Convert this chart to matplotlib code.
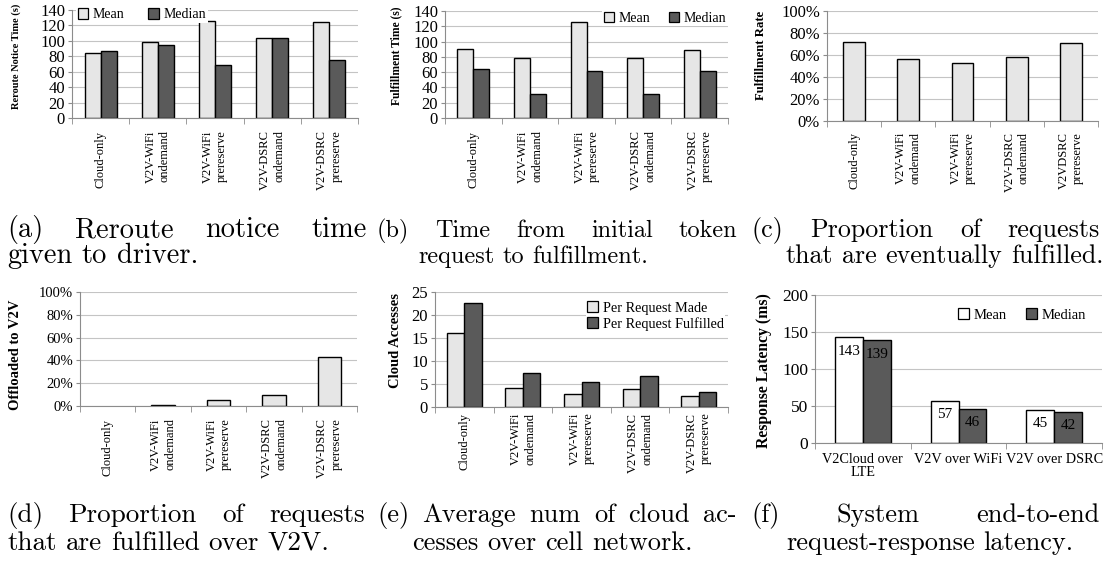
import numpy as np
import matplotlib
matplotlib.use("Agg")
import matplotlib.pyplot as plt
from matplotlib.transforms import IdentityTransform
from matplotlib.ticker import PercentFormatter, MultipleLocator
from matplotlib.patches import Patch

W, H = 1113, 567

# --- data ---
SCHEMES = ["Cloud-only", "V2V-WiFi\nondemand", "V2V-WiFi\nprereserve",
           "V2V-DSRC\nondemand", "V2V-DSRC\nprereserve"]
SCHEMES_C = ["Cloud-only", "V2V-WiFi\nondemand", "V2V-WiFi\nprereserve",
             "V2V-DSRC\nondemand", "V2VDSRC\nprereserve"]
reroute_mean = [84, 99, 126, 104, 124]
reroute_median = [87, 95, 69, 104, 75]
fulfill_mean = [90, 79, 125, 78, 89]
fulfill_median = [64, 32, 61, 32, 61]
fulfill_rate = [72, 56, 53, 58, 71]          # %
offloaded = [0, 1, 5, 9.6, 43]                # %
access_made = [16.1, 4.2, 2.75, 3.9, 2.4]
access_fulfilled = [22.7, 7.4, 5.4, 6.7, 3.3]
LINKS = ["V2Cloud over\nLTE", "V2V over WiFi", "V2V over DSRC"]
latency_mean = [143, 57, 45]
latency_median = [139, 46, 42]

LIGHT = "#e6e6e6"
DARK = "#5a5a5a"
GRAY = "#8c8c8c"

plt.rcParams["font.family"] = "Liberation Serif"
fig = plt.figure(figsize=(W / 100, H / 100), dpi=100)


def add_axes(l, t, r, b):
    return fig.add_axes([l / W, 1 - b / H, (r - l) / W, (b - t) / H])


def style(ax, n, ymax, step, ysize, xsize=9, xpad=8):
    ax.set_xlim(-0.5, n - 0.5)
    ax.set_ylim(0, ymax)
    ax.yaxis.set_major_locator(MultipleLocator(step))
    ax.grid(axis="y", color="#c4c4c4", lw=0.8)
    ax.set_axisbelow(True)
    for s in ["top", "right"]:
        ax.spines[s].set_visible(False)
    for s in ["left", "bottom"]:
        ax.spines[s].set_color(GRAY)
        ax.spines[s].set_linewidth(0.8)
    ax.tick_params(axis="y", length=3, color=GRAY, labelsize=ysize, pad=2)
    ax.set_xticks(np.arange(-0.5, n), minor=True)
    ax.tick_params(axis="x", which="minor", length=4, color=GRAY)
    ax.tick_params(axis="x", which="major", length=0, labelsize=xsize, pad=xpad)
    ax.set_xticks(range(n))


def rot_labels(ax, labels):
    ax.set_xticklabels(labels, rotation=90, ha="center", va="top",
                       multialignment="right", linespacing=1.25)


def ylab(ax, text, size, x, y):
    ax.set_ylabel(text, fontsize=size, fontweight="bold")
    ax.yaxis.set_label_coords(x, y)


def legend(ax, labels, colors, size, loc, anchor, ncol, colspace=1.4):
    handles = [Patch(facecolor=c, edgecolor="black", lw=0.9) for c in colors]
    ax.legend(handles, labels, loc=loc, bbox_to_anchor=anchor, ncol=ncol,
              fontsize=size, frameon=True, facecolor="white", edgecolor="none",
              framealpha=1, fancybox=False, borderpad=0.1, borderaxespad=0,
              handlelength=0.75, handleheight=0.75, handletextpad=0.35,
              columnspacing=colspace, labelspacing=0.15)


def edges(vals):
    # a zero-height bar leaves no mark in the original
    return [0 if v == 0 else 1 for v in vals]


x5 = np.arange(5)
x3 = np.arange(3)
bw = 0.28

# (a) reroute notice time
ax = add_axes(72, 10, 358, 118)
ax.bar(x5 - bw / 2, reroute_mean, bw, color=LIGHT, edgecolor="black", lw=1)
ax.bar(x5 + bw / 2, reroute_median, bw, color=DARK, edgecolor="black", lw=1)
style(ax, 5, 140, 20, 12, xpad=9)
rot_labels(ax, SCHEMES)
ylab(ax, "Reroute Notice Time (s)", 7.5, -0.178, 0.57)
legend(ax, ["Mean", "Median"], [LIGHT, DARK], 10, "center left",
       (0.015, 0.955), 2, 1.7)

# (b) fulfillment time
ax = add_axes(445, 11, 728, 118)
ax.bar(x5 - bw / 2, fulfill_mean, bw, color=LIGHT, edgecolor="black", lw=1)
ax.bar(x5 + bw / 2, fulfill_median, bw, color=DARK, edgecolor="black", lw=1)
style(ax, 5, 140, 20, 12, xpad=9)
rot_labels(ax, SCHEMES)
ylab(ax, "Fulfillment Time (s)", 8.4, -0.152, 0.58)
legend(ax, ["Mean", "Median"], [LIGHT, DARK], 10, "center right",
       (1.0, 0.93), 2, 1.3)

# (c) fulfillment rate
ax = add_axes(827, 11, 1098, 121)
ax.bar(x5, fulfill_rate, 0.4, color=LIGHT, edgecolor="black", lw=1)
style(ax, 5, 100, 20, 12, xpad=8)
ax.yaxis.set_major_formatter(PercentFormatter(100, decimals=0))
rot_labels(ax, SCHEMES_C)
ylab(ax, "Fulfillment Rate", 9.2, -0.221, 0.60)

# (d) offloaded to V2V
ax = add_axes(80, 292, 357, 406)
ax.bar(x5, offloaded, 0.42, color=LIGHT, edgecolor="black", lw=edges(offloaded))
style(ax, 5, 100, 20, 10.5, xpad=9)
ax.yaxis.set_major_formatter(PercentFormatter(100, decimals=0))
rot_labels(ax, SCHEMES)
ylab(ax, "Offloaded to V2V", 10.5, -0.209, 0.447)

# (e) cloud accesses
bw_e = 0.3
ax = add_axes(435, 292, 728, 407)
ax.bar(x5 - bw_e / 2, access_made, bw_e, color=LIGHT, edgecolor="black", lw=1)
ax.bar(x5 + bw_e / 2, access_fulfilled, bw_e, color=DARK, edgecolor="black", lw=1)
style(ax, 5, 25, 5, 12, xpad=4)
rot_labels(ax, SCHEMES)
ylab(ax, "Cloud Accesses", 10.5, -0.113, 0.574)
legend(ax, ["Per Request Made", "Per Request Fulfilled"], [LIGHT, DARK], 10.3,
       "upper left", (0.515, 0.93), 1)

# (f) response latency
bw_f = 0.29
ax = add_axes(815, 295, 1102, 443)
bm = ax.bar(x3 - bw_f / 2, latency_mean, bw_f, color="white", edgecolor="black", lw=1)
bd = ax.bar(x3 + bw_f / 2, latency_median, bw_f, color=DARK, edgecolor="black", lw=1)
style(ax, 3, 200, 50, 12.5, xsize=10.3, xpad=7)
ax.set_xticklabels(LINKS, linespacing=1.0)
ylab(ax, "Response Latency (ms)", 11.3, -0.15, 0.49)
legend(ax, ["Mean", "Median"], ["white", DARK], 10.5, "center right",
       (0.95, 0.865), 2, 1.3)
for cont in (bm, bd):
    for rect, v in zip(cont, cont.datavalues):
        ax.annotate(f"{v:.0f}", (rect.get_x() + rect.get_width() / 2, v),
                    xytext=(0, -14), textcoords="offset pixels",
                    ha="center", va="center", fontsize=11)

# --- sub-captions (Computer Modern, first line justified) ---
renderer = fig.canvas.get_renderer()


def cap_line(text, size, x0, base, x1=None):
    words = text.split(" ")
    ts = [fig.text(0, H - base, w, fontsize=size, family="cmr10", va="baseline",
                   transform=IdentityTransform()) for w in words]
    widths = [t.get_window_extent(renderer).width for t in ts]
    if x1 is None or len(words) == 1:
        gap = size * 100 / 72 * 0.333
    else:
        gap = (x1 - x0 - sum(widths)) / (len(words) - 1)
    x = x0
    for t, w in zip(ts, widths):
        t.set_x(x)
        x += w + gap


cap_line("(a) Reroute notice time", 20.5, 7, 237, 367)
cap_line("given to driver.", 20.5, 7, 263)
cap_line("(b) Time from initial token", 17.5, 377, 237, 737)
cap_line("request to fulfillment.", 17.5, 418, 263)
cap_line("(c) Proportion of requests", 18.7, 751, 237, 1100)
cap_line("that are eventually fulfilled.", 18.7, 786, 263)
cap_line("(d) Proportion of requests", 19.5, 7, 522, 365)
cap_line("that are fulfilled over V2V.", 19.5, 7, 550)
cap_line("(e) Average num of cloud ac-", 19, 377, 522, 737)
cap_line("cesses over cell network.", 19, 412, 550)
cap_line("(f) System end-to-end", 19, 751, 522, 1100)
cap_line("request-response latency.", 19, 786, 550)

fig.savefig("out.png", dpi=100)
